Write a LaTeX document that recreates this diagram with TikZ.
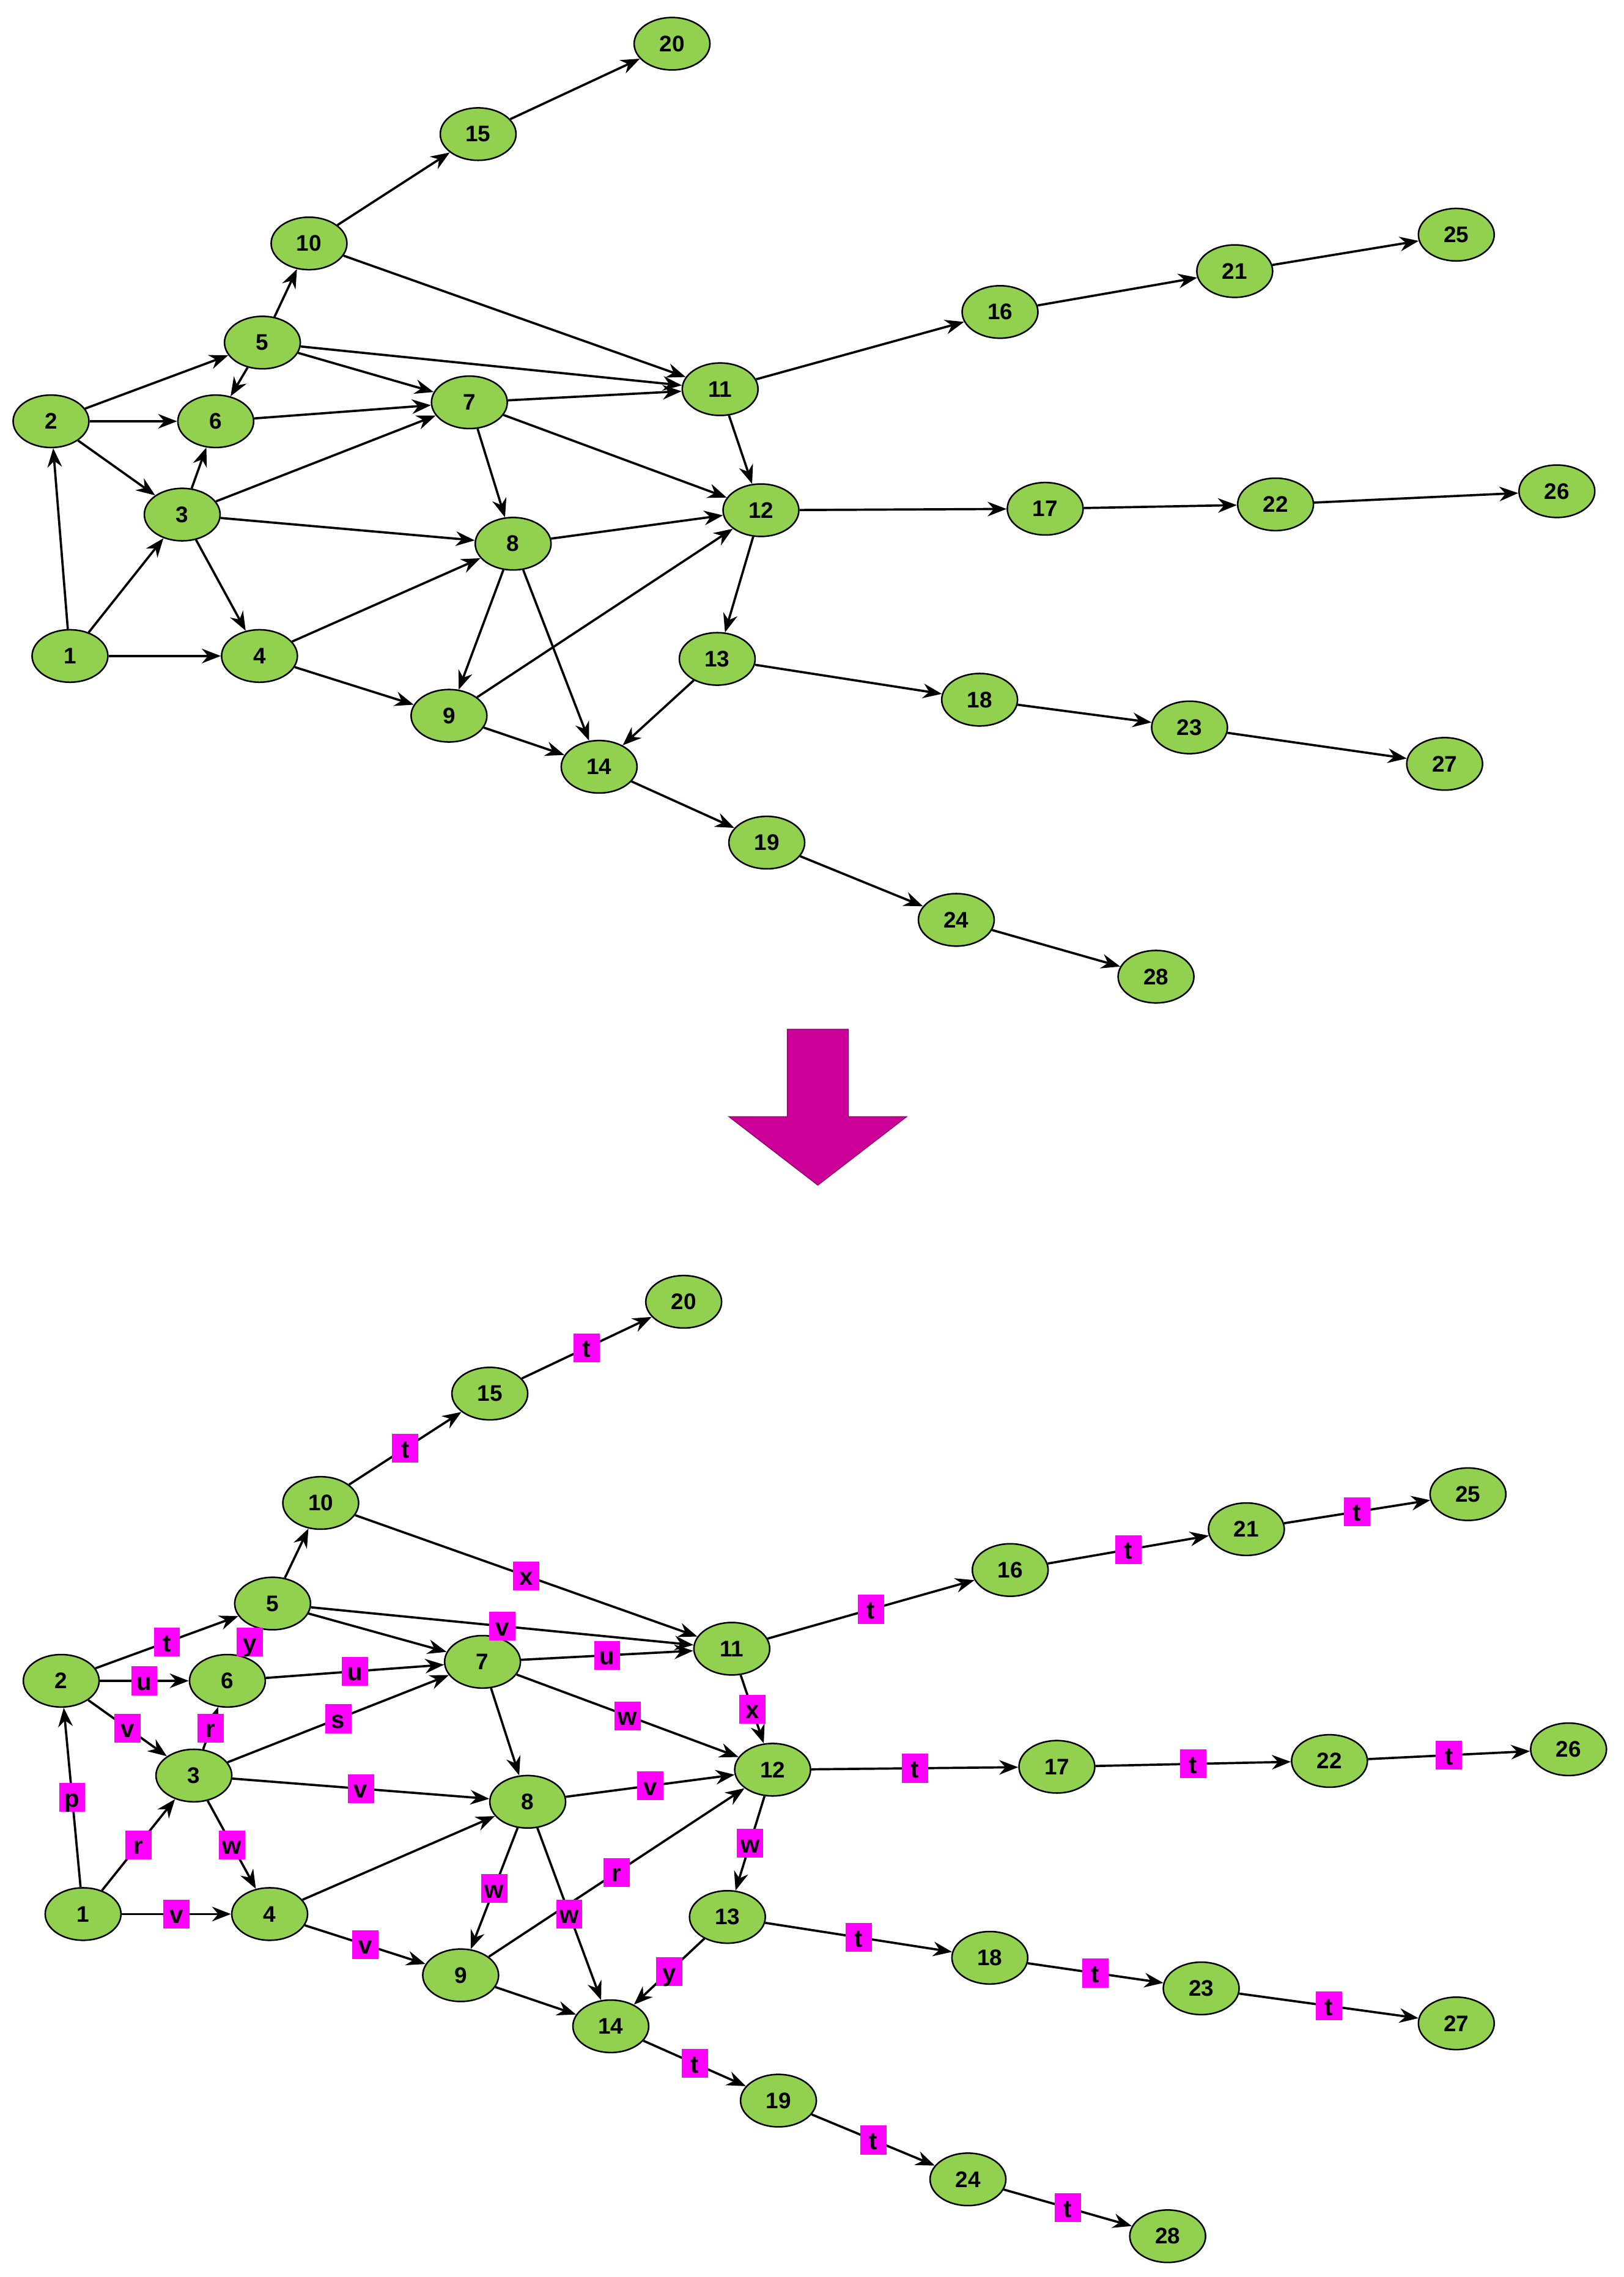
\documentclass[tikz,border=0pt]{standalone}
\usepackage{fontspec}
\setmainfont{Liberation Sans}
\usetikzlibrary{arrows.meta,shapes.geometric,calc}
\definecolor{ng}{HTML}{92D050}
\definecolor{lb}{HTML}{FF00FF}
\definecolor{ba}{HTML}{CC0099}
\begin{document}
\begin{tikzpicture}[x=0.05cm,y=-0.05cm,
  nd/.style={ellipse,draw=black,line width=1.5pt,fill=ng,minimum width=2.6cm,minimum height=1.8cm,inner sep=0pt,font=\fontsize{22}{24}\selectfont\bfseries},
  ed/.style={line width=2.2pt,-{Stealth[length=0.65cm,width=0.5cm]}},
  lab/.style={fill=lb,inner sep=2pt,font=\fontsize{24}{26}\selectfont\bfseries,text height=0.75cm,text depth=0.1cm,minimum width=0.9cm}]
\useasboundingbox (0,0) rectangle (1114,1562);
% top graph
\foreach \n/\x/\y in {1/48/450,2/35/289,3/125/353,4/178/450,5/180/235,6/148/289,7/322/276,8/352/373,9/308/491,10/212/167,11/494/267,12/522/350,13/492/452,14/411/526,15/328/92,16/686/214,17/717/349,18/672/480,19/526/578,20/461/30,21/847/186,22/875/346,23/816/499,24/656/631,25/999/161,26/1068/337,27/991/524,28/793/670}
  \node[nd] (a\n) at (\x,\y) {\n};
\foreach \s/\t in {1/2,1/3,1/4,2/5,2/6,2/3,3/6,3/7,3/8,3/4,5/6,5/10,5/7,5/11,6/7,4/8,4/9,7/11,7/8,7/12,8/12,8/9,8/14,9/12,9/14,10/15,10/11,11/16,11/12,12/17,12/13,13/14,13/18,14/19,15/20,16/21,21/25,17/22,22/26,18/23,23/27,19/24,24/28}
  \draw[ed] (a\s) -- (a\t);
% big arrow
\fill[ba] (540,706) -- (582,706) -- (582,766) -- (622,766) -- (561,813) -- (500,766) -- (540,766) -- cycle;
\draw[ba!70!black,line width=0.8pt] (540,706) -- (582,706) -- (582,766) -- (622,766) -- (561,813) -- (500,766) -- (540,766) -- cycle;
% bottom graph
\foreach \n/\x/\y in {1/57/1313,2/42/1153,3/133/1218,4/185/1313,5/187/1100,6/156/1153,7/331/1140,8/362/1236,9/316/1355,10/220/1031,11/502/1131,12/530/1214,13/499/1315,14/419/1390,15/336/956,16/693/1077,17/725/1212,18/679/1343,19/534/1441,20/469/893,21/855/1049,22/912/1208,23/824/1364,24/664/1495,25/1007/1025,26/1076/1200,27/999/1388,28/801/1534}
  \node[nd] (b\n) at (\x,\y) {\n};
\foreach \s/\t in {1/2,1/3,1/4,2/5,2/6,2/3,3/6,5/6,3/7,3/8,3/4,6/7,5/11,7/11,10/11,7/12,8/12,8/9,8/14,9/12,11/12,12/13,13/14,4/9,10/15,15/20,11/16,16/21,21/25,12/17,17/22,22/26,13/18,18/23,23/27,14/19,19/24,24/28,7/8,4/8,5/10,5/7,9/14}
  \draw[ed] (b\s) -- (b\t);
\foreach \s/\t/\l in {1/2/p,1/3/r,1/4/v,2/5/t,2/6/u,2/3/v,3/6/r,5/6/y,3/7/s,3/8/v,3/4/w,6/7/u,5/11/v,7/11/u,10/11/x,7/12/w,8/12/v,8/9/w,8/14/w,9/12/r,11/12/x,12/13/w,13/14/y,4/9/v,10/15/t,15/20/t,11/16/t,16/21/t,21/25/t,12/17/t,17/22/t,22/26/t,13/18/t,18/23/t,23/27/t,14/19/t,19/24/t,24/28/t}
  \node[lab] (l\s-\t) at ($(b\s)!0.5!(b\t)$) {\l};
\end{tikzpicture}
\end{document}
